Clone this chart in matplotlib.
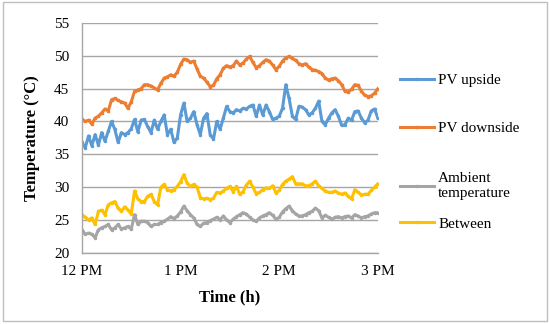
import numpy as np
import matplotlib
matplotlib.use("Agg")
import matplotlib.pyplot as plt
from matplotlib.patches import Rectangle

# minutes after 12 PM, one reading every 2 minutes
minutes = np.arange(0, 181, 2)

pv_upside = [36.8, 36.0, 37.8, 36.3, 38.0, 36.4, 38.3, 37.0, 38.5, 40.0, 38.8, 36.8, 38.3, 38.0, 38.3, 38.9,
             40.3, 38.4, 40.2, 40.3, 39.2, 38.3, 40.2, 38.8, 40.0, 41.0, 38.0, 38.8, 36.8, 37.5, 41.0, 42.8,
             40.0, 40.5, 41.5, 39.5, 38.0, 40.5, 41.2, 38.0, 37.3, 40.0, 38.8, 40.5, 42.3, 41.5, 41.3, 41.8,
             41.6, 42.0, 41.9, 42.3, 42.5, 40.8, 42.5, 41.0, 42.5, 41.5, 40.3, 40.5, 40.8, 42.0, 45.6, 43.5,
             40.8, 40.3, 42.3, 42.2, 41.8, 41.0, 41.3, 42.0, 43.1, 40.0, 39.5, 40.5, 41.3, 41.8, 40.8, 39.4,
             39.5, 40.5, 40.2, 41.5, 41.6, 40.5, 39.8, 40.2, 41.6, 41.9, 40.5]

pv_downside = [40.3, 40.0, 40.2, 39.6, 40.5, 40.8, 41.3, 41.9, 41.6, 43.3, 43.5, 43.2, 43.0, 42.8, 42.0, 43.0,
               44.6, 44.8, 45.0, 45.6, 45.6, 45.4, 45.1, 44.8, 45.8, 46.6, 46.8, 47.1, 46.9, 47.5, 48.7, 49.5,
               49.4, 49.0, 49.2, 48.0, 46.9, 46.6, 46.0, 45.3, 45.5, 46.5, 47.1, 48.1, 48.5, 48.3, 48.5, 49.2,
               48.6, 48.9, 49.5, 49.9, 49.0, 48.2, 48.5, 49.0, 49.4, 49.2, 48.6, 47.9, 48.4, 49.2, 49.7, 49.9,
               49.6, 49.3, 48.8, 48.6, 48.8, 48.3, 47.9, 47.8, 47.6, 47.3, 46.6, 46.3, 46.5, 46.6, 46.2, 45.6,
               44.6, 44.5, 44.9, 45.6, 45.5, 44.6, 44.0, 43.8, 43.9, 44.3, 45.0]

ambient = [23.5, 22.8, 23.0, 22.8, 22.3, 23.5, 23.8, 24.0, 24.3, 23.5, 23.8, 24.3, 23.6, 23.8, 24.0, 23.6,
           25.8, 24.3, 24.8, 24.8, 24.6, 24.0, 24.3, 24.3, 24.6, 24.8, 25.1, 25.5, 25.2, 25.6, 26.2, 27.1,
           26.4, 25.8, 25.3, 24.3, 24.0, 24.5, 24.6, 24.9, 25.1, 25.4, 25.0, 25.6, 25.0, 24.6, 25.1, 25.5,
           25.8, 26.1, 25.9, 25.4, 25.0, 24.8, 25.3, 25.6, 25.8, 26.1, 25.7, 25.1, 25.4, 26.2, 26.7, 27.1,
           26.4, 25.9, 25.6, 25.6, 25.8, 26.1, 26.3, 26.8, 26.4, 25.3, 25.7, 25.4, 25.1, 25.4, 25.5, 25.3,
           25.5, 25.6, 25.3, 25.8, 25.6, 25.3, 25.5, 25.6, 25.9, 26.1, 26.1]

between = [25.8, 25.4, 25.0, 25.3, 24.3, 26.3, 26.5, 25.8, 27.3, 27.6, 27.8, 26.8, 26.3, 27.0, 26.5, 25.9,
           29.4, 28.2, 27.8, 27.8, 28.6, 28.9, 27.8, 27.3, 30.0, 30.4, 29.6, 29.4, 29.6, 30.1, 30.8, 31.9,
           30.6, 30.1, 30.4, 30.0, 28.4, 28.2, 28.3, 28.1, 28.3, 29.2, 29.1, 29.4, 29.8, 30.1, 29.3, 30.1,
           28.9, 29.3, 30.3, 30.9, 30.0, 29.0, 29.2, 29.6, 29.9, 29.8, 30.2, 29.1, 29.5, 30.4, 30.9, 31.2,
           31.6, 30.5, 30.5, 30.5, 30.2, 30.2, 30.5, 30.9, 30.2, 29.8, 29.4, 29.2, 29.2, 29.4, 29.1, 28.9,
           29.1, 28.6, 28.2, 29.6, 29.2, 28.8, 28.9, 28.9, 29.5, 30.0, 30.5]

tick_minutes = [0, 60, 120, 180]
tick_labels = ["12 PM", "1 PM", "2 PM", "3 PM"]

plt.rcParams["font.family"] = ["Liberation Serif", "DejaVu Serif"]

fig = plt.figure(figsize=(5.5, 3.24), dpi=100)
ax = fig.add_axes([0.149, 0.22, 0.538, 0.709])

# chart area border
fig.patches.append(Rectangle((0.005, 0.008), 0.99, 0.985, transform=fig.transFigure,
                             fill=False, edgecolor="#bfbfbf", linewidth=1.0))

l1, = ax.plot(minutes, pv_upside, color="#5B9BD5", lw=2.2, marker="o", ms=1.5)
l2, = ax.plot(minutes, pv_downside, color="#ED7D31", lw=2.2, marker="s", ms=1.8)
l3, = ax.plot(minutes, ambient, color="#A5A5A5", lw=2.2, marker="o", ms=1.5)
l4, = ax.plot(minutes, between, color="#FFC000", lw=2.2, marker="o", ms=1.5)

ax.set_xlim(0, 180)
ax.set_ylim(20, 55)
ax.set_yticks(range(20, 56, 5))
ax.set_xticks(tick_minutes)
ax.set_xticklabels(tick_labels)
ax.grid(axis="y", color="#a6a6a6", linewidth=1.0)
ax.set_axisbelow(True)
for side in ["top", "right"]:
    ax.spines[side].set_visible(False)
for side in ["left", "bottom"]:
    ax.spines[side].set_color("#a6a6a6")
    ax.spines[side].set_linewidth(1.0)
ax.tick_params(axis="y", length=0, pad=9, labelsize=11)
ax.tick_params(axis="x", length=0, pad=9, labelsize=11)

ax.set_ylabel("Temperature (°C)", fontsize=12, fontweight="bold", labelpad=10)
ax.set_xlabel("Time (h)", fontsize=12, fontweight="bold", labelpad=8)

# legend entries placed one by one, like the Excel legend
entries = [(l1, "PV upside", 80), (l2, "PV downside", 128),
           (l3, "Ambient\ntemperature", 186), (l4, "Between", 224)]
for line, text, ypix in entries:
    leg = fig.legend([line], [text], loc="center left",
                     bbox_to_anchor=(400 / 550, 1 - ypix / 324), frameon=False, fontsize=11,
                     handlelength=2.2, handletextpad=0.3, borderpad=0, borderaxespad=0)
    for t in leg.get_texts():
        t.set_linespacing(1.3)

fig.savefig("out.png", dpi=100)
